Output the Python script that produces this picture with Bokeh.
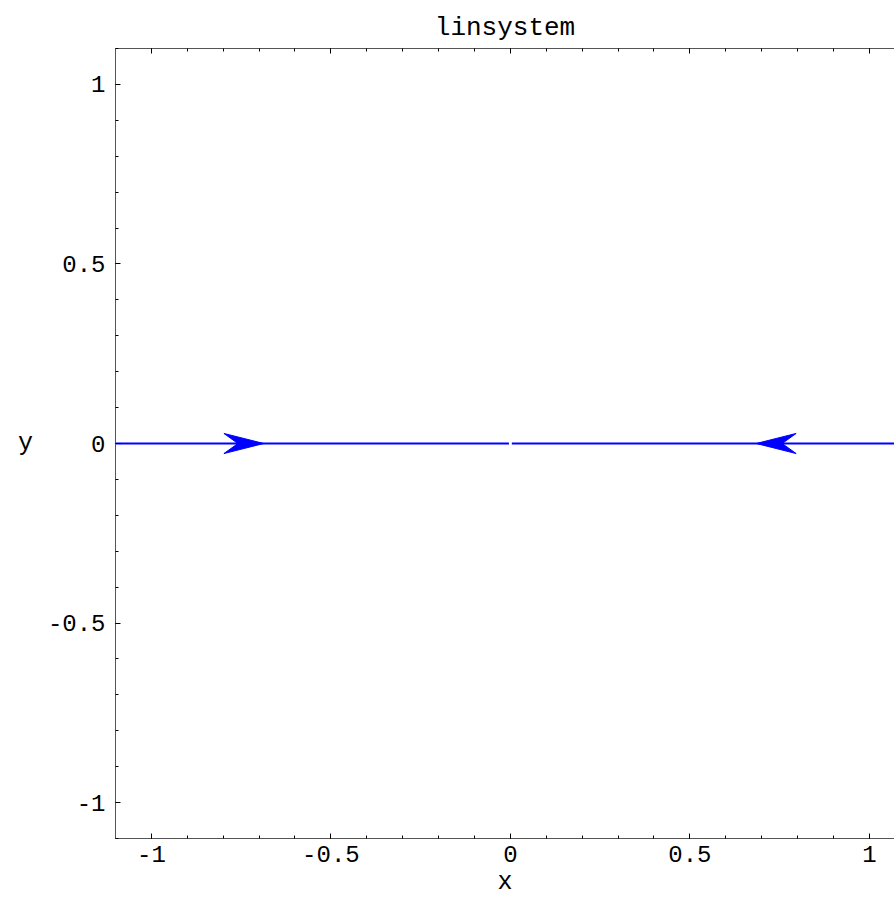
import numpy as np
from bokeh.plotting import figure
from bokeh.models import LinearAxis, FixedTicker, Range1d
from bokeh.embed import file_html
from bokeh.resources import INLINE

# ---- data ----
title_text = "linsystem"
x_label = "x"
y_label = "y"
x_start, x_end = -1.1, 1.07
y_start, y_end = -1.1, 1.1
major_ticks = [-1.0, -0.5, 0.0, 0.5, 1.0]
tick_labels = ["-1", "-0.5", "0", "0.5", "1"]
minor_ticks = [round(v, 2) for v in np.arange(-1.1, 1.101, 0.1)]

# trajectories along y = 0 flowing toward the fixed point at the origin
seg_x0 = [-1.1, 0.004]
seg_x1 = [-0.004, 1.1]
seg_y = [0.0, 0.0]

# arrowheads: tip position and direction
arrow_tip_x = [-0.687, 0.685]
arrow_tip_y = [0.0, 0.0]
arrow_dir = [1, -1]

BLUE = "#0000ff"
FONT = "Liberation Mono"

p = figure(width=894, height=899, output_backend="svg", toolbar_location=None,
           x_range=Range1d(x_start, x_end), y_range=Range1d(y_start, y_end),
           min_border_left=115, min_border_right=0, min_border_top=48,
           min_border_bottom=61, x_axis_location=None, y_axis_location=None,
           title=title_text)
p.grid.visible = False
p.outline_line_color = None
p.background_fill_color = "white"
p.border_fill_color = "white"
p.title.align = "center"
p.title.text_font = FONT
p.title.text_font_size = "26px"
p.title.text_font_style = "normal"
p.title.text_color = "black"
p.title.standoff = 11

overrides = {t: l for t, l in zip(major_ticks, tick_labels)}
blank = {t: "" for t in major_ticks}


def style_axis(ax, show_labels=True):
    ax.ticker = FixedTicker(ticks=major_ticks, minor_ticks=minor_ticks)
    ax.major_label_overrides = overrides if show_labels else blank
    ax.axis_line_color = "#555555"
    ax.axis_line_width = 1
    ax.major_tick_line_color = "black"
    ax.minor_tick_line_color = "black"
    ax.major_tick_in = 5
    ax.major_tick_out = 0
    ax.minor_tick_in = 3
    ax.minor_tick_out = 0
    ax.major_label_text_font = FONT
    ax.major_label_text_font_size = "24px"
    ax.major_label_text_color = "black"
    ax.axis_label_text_font = FONT
    ax.axis_label_text_font_size = "25px"
    ax.axis_label_text_font_style = "normal"
    ax.axis_label_text_color = "black"
    if not show_labels:
        ax.major_label_standoff = 0


xb = LinearAxis()
style_axis(xb)
xb.major_label_standoff = 7
xb.axis_label = x_label
xb.axis_label_standoff = 3
p.add_layout(xb, "below")

xt = LinearAxis()
style_axis(xt, show_labels=False)
p.add_layout(xt, "above")

yl = LinearAxis()
style_axis(yl)
yl.major_label_standoff = 10
yl.axis_label = y_label
yl.axis_label_orientation = "horizontal"
yl.axis_label_standoff = 12
p.add_layout(yl, "left")

# trajectories
p.segment(x0=seg_x0, y0=seg_y, x1=seg_x1, y1=seg_y, line_color=BLUE, line_width=2)

# arrowheads built from tip data
L, W, N = 0.111, 0.028, 0.039
xs, ys = [], []
for xt_, yt_, d in zip(arrow_tip_x, arrow_tip_y, arrow_dir):
    xs.append([xt_, xt_ - d * L, xt_ - d * (L - N), xt_ - d * L])
    ys.append([yt_, yt_ + W, yt_, yt_ - W])
p.patches(xs=xs, ys=ys, fill_color=BLUE, line_color=BLUE, line_width=1)

open("out.html", "w").write(file_html(p, INLINE))
